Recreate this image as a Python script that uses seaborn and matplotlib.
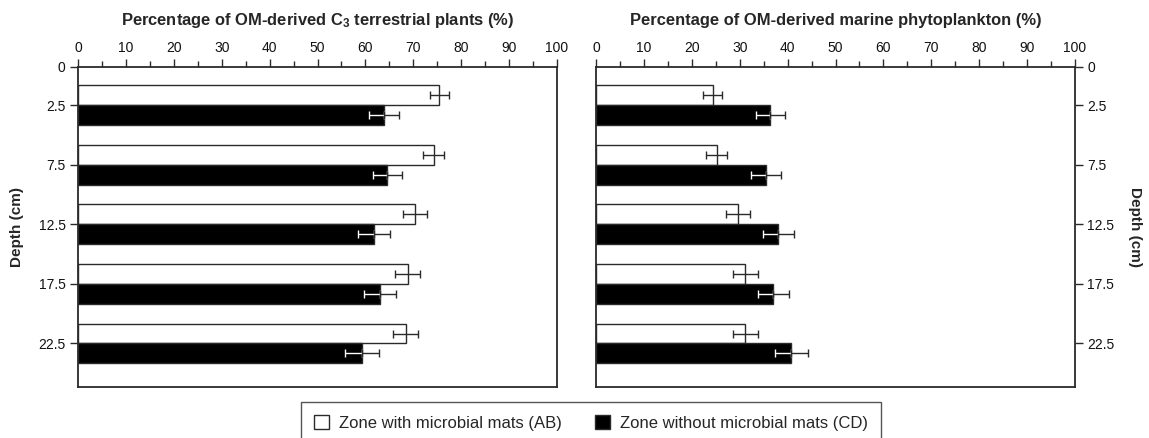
import numpy as np
import pandas as pd
import matplotlib
matplotlib.use("Agg")
import matplotlib.pyplot as plt
from matplotlib.patches import Patch
from matplotlib.ticker import MultipleLocator
import seaborn as sns

# Depth intervals (cm) and zones
depths = ["2.5", "7.5", "12.5", "17.5", "22.5"]
zones = ["Zone with microbial mats (AB)", "Zone without microbial mats (CD)"]

# OM derived from C3 terrestrial plants (%)
c3_ab = [75.4, 74.3, 70.4, 68.8, 68.4]
c3_ab_err = [2.0, 2.2, 2.5, 2.6, 2.6]
c3_cd = [63.9, 64.6, 61.8, 63.1, 59.3]
c3_cd_err = [3.2, 3.1, 3.3, 3.3, 3.5]

# OM derived from marine phytoplankton (%)
mp_ab = [24.4, 25.2, 29.7, 31.2, 31.2]
mp_ab_err = [2.0, 2.2, 2.5, 2.6, 2.6]
mp_cd = [36.4, 35.5, 38.1, 37.0, 40.8]
mp_cd_err = [3.1, 3.2, 3.3, 3.2, 3.5]

sns.set_theme(style="white")
plt.rcParams["font.family"] = ["Liberation Sans", "DejaVu Sans"]
plt.rcParams["mathtext.default"] = "regular"

EDGE = "#2a2a2a"

fig = plt.figure(figsize=(11.49, 4.38), dpi=100)
W, H = 1149.0, 438.0
ax_l = fig.add_axes([78 / W, 1 - 387 / H, 479 / W, 320 / H])
ax_r = fig.add_axes([596 / W, 1 - 387 / H, 479 / W, 320 / H])


def long_frame(ab, cd):
    return pd.DataFrame({
        "depth": depths * 2,
        "zone": [zones[0]] * len(depths) + [zones[1]] * len(depths),
        "value": list(ab) + list(cd),
    })


def draw_panel(ax, ab, ab_err, cd, cd_err):
    df = long_frame(ab, cd)
    sns.barplot(data=df, x="value", y="depth", hue="zone", order=depths,
                hue_order=zones, palette={zones[0]: "white", zones[1]: "black"},
                edgecolor=EDGE, linewidth=1.0, width=0.67, orient="h",
                errorbar=None, legend=False, ax=ax)
    # Error bars: black on the open bars; on the filled bars the part lying
    # inside the bar is white and the part outside is black.
    for bar, v, e in zip(ax.containers[0], ab, ab_err):
        yc = bar.get_y() + bar.get_height() / 2
        ax.errorbar(v, yc, xerr=e, fmt="none", ecolor=EDGE, elinewidth=1.0,
                    capsize=3, capthick=1.0, zorder=5)
    for bar, v, e in zip(ax.containers[1], cd, cd_err):
        yc = bar.get_y() + bar.get_height() / 2
        ax.errorbar(v, yc, xerr=[[e], [0]], fmt="none", ecolor="white",
                    elinewidth=1.0, capsize=3, capthick=1.0, zorder=5)
        ax.errorbar(v, yc, xerr=[[0], [e]], fmt="none", ecolor=EDGE,
                    elinewidth=1.0, capsize=3, capthick=1.0, zorder=5)

    ax.set_xlim(0, 100)
    ax.set_ylim(4.73, -0.64)
    ax.xaxis.set_major_locator(MultipleLocator(10))
    ax.xaxis.set_minor_locator(MultipleLocator(5))
    ax.xaxis.tick_top()
    ax.tick_params(axis="x", which="both", top=True, bottom=False,
                   direction="out", color=EDGE, width=1.0, labelsize=10,
                   labelcolor="#111111", pad=3)
    ax.tick_params(axis="x", which="major", length=6)
    ax.tick_params(axis="x", which="minor", length=4)
    ax.set_yticks([-0.64, 0, 1, 2, 3, 4])
    ax.set_yticklabels(["0"] + depths)
    ax.set_xlabel("")
    ax.set_ylabel("")
    for s in ax.spines.values():
        s.set_color(EDGE)
        s.set_linewidth(1.3)


draw_panel(ax_l, c3_ab, c3_ab_err, c3_cd, c3_cd_err)
draw_panel(ax_r, mp_ab, mp_ab_err, mp_cd, mp_cd_err)

ax_l.tick_params(axis="y", left=True, right=False, direction="out", length=6,
                 width=1.0, color=EDGE, labelsize=10, labelcolor="#111111", pad=3)
ax_r.yaxis.tick_right()
ax_r.tick_params(axis="y", left=False, right=True, labelleft=False,
                 labelright=True, direction="out", length=6, width=1.0,
                 color=EDGE, labelsize=10, labelcolor="#111111", pad=3)

# Panel titles
fig.text((78 + 557) / 2 / W, 1 - 20 / H,
         "Percentage of OM-derived C$_{3}$ terrestrial plants (%)",
         ha="center", va="center", fontsize=11.9, fontweight="bold")
fig.text((596 + 1075) / 2 / W, 1 - 20 / H,
         "Percentage of OM-derived marine phytoplankton (%)",
         ha="center", va="center", fontsize=11.9, fontweight="bold")

# Depth axis labels
fig.text(17 / W, 1 - 227 / H, "Depth (cm)", rotation=90, ha="center",
         va="center", fontsize=11, fontweight="bold")
fig.text(1135 / W, 1 - 227 / H, "Depth (cm)", rotation=270, ha="center",
         va="center", fontsize=11, fontweight="bold")

handles = [Patch(facecolor="white", edgecolor=EDGE, linewidth=1.0),
           Patch(facecolor="black", edgecolor=EDGE, linewidth=1.0)]
leg = fig.legend(handles, zones, loc="center", bbox_to_anchor=(591 / W, 1 - 423 / H),
                 ncol=2, frameon=True, fancybox=False, fontsize=12,
                 handlelength=0.9, handleheight=0.9, handletextpad=0.6,
                 columnspacing=2.0, borderpad=0.8, edgecolor=EDGE)
leg.get_frame().set_linewidth(1.0)

fig.savefig("out.png", dpi=100, facecolor="white")
